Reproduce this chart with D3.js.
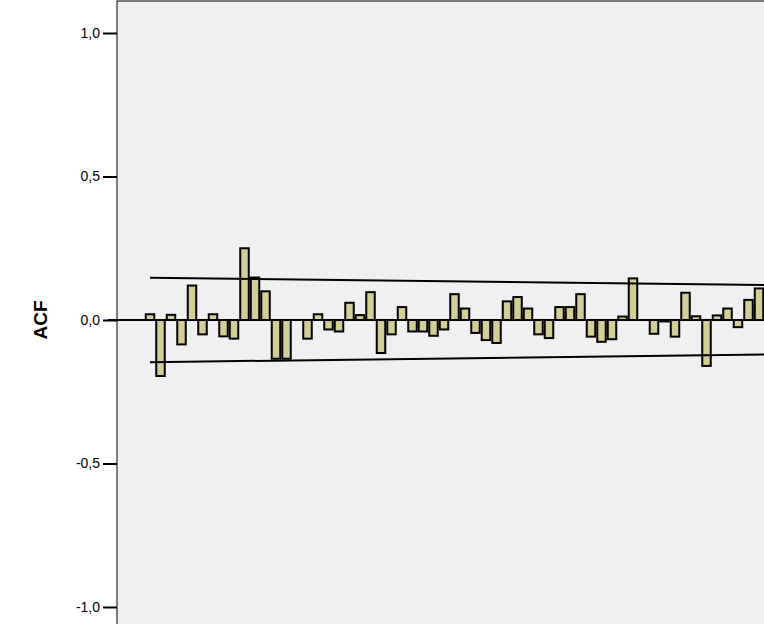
<!DOCTYPE html>
<html><head><meta charset="utf-8">
<script src="https://cdn.jsdelivr.net/npm/d3@7"></script>
<style>body{margin:0;background:#fff}</style>
</head><body>
<div id="chart"></div>
<script>
var acf = [0.02,-0.195,0.018,-0.085,0.12,-0.05,0.02,-0.057,-0.065,0.25,
  0.148,0.10,-0.135,-0.135,0,-0.065,0.02,-0.033,-0.04,0.06,
  0.017,0.097,-0.115,-0.05,0.045,-0.04,-0.04,-0.055,-0.033,0.09,
  0.04,-0.045,-0.07,-0.08,0.065,0.08,0.04,-0.05,-0.063,0.045,
  0.045,0.09,-0.058,-0.076,-0.067,0.012,0.145,0,-0.048,-0.005,
  -0.058,0.095,0.013,-0.16,0.016,0.04,-0.025,0.07,0.11];
var lags = acf.map(function(d, i) { return i + 1; });
var confLags = [1, 59.5];
var confUpper = [0.147, 0.122];
var confLower = [-0.147, -0.12];
var yTicks = [1.0, 0.5, 0, -0.5, -1.0];

var width = 764, height = 624;
var svg = d3.select("#chart").append("svg")
    .attr("width", width).attr("height", height);

var x = d3.scaleLinear().domain([1, 59]).range([150, 759]);
var y = d3.scaleLinear().domain([-1, 1]).range([607, 33]);
var bw = 8.5;

svg.append("rect").attr("x", 117).attr("y", 1).attr("width", 660).attr("height", 640)
    .attr("fill", "#f0f0f0").attr("stroke", "#000").attr("stroke-width", 1);

var fmt = function(d) { return d3.format(".1f")(d).replace(".", ",").replace("\u2212", "-"); };
var axis = svg.append("g").attr("transform", "translate(117,0)")
    .call(d3.axisLeft(y).tickValues(yTicks).tickSize(14).tickFormat(fmt).tickPadding(3));
axis.select(".domain").remove();
axis.selectAll("line").attr("stroke", "#000").attr("stroke-width", 2);
axis.selectAll("text").attr("font-family", "Arial, Liberation Sans, sans-serif")
    .attr("font-size", 14).attr("fill", "#000");

svg.append("text").attr("transform", "translate(47," + y(0) + ") rotate(-90)")
    .attr("text-anchor", "middle").attr("font-family", "Arial, Liberation Sans, sans-serif")
    .attr("font-weight", "bold").attr("font-size", 19).text("ACF");

svg.append("g").selectAll("rect").data(acf).enter().append("rect")
    .attr("x", function(d, i) { return x(lags[i]) - bw / 2; })
    .attr("y", function(d) { return y(Math.max(0, d)); })
    .attr("width", bw)
    .attr("height", function(d) { return Math.abs(y(d) - y(0)); })
    .attr("fill", "#d3cd96").attr("stroke", "#000").attr("stroke-width", 2);

svg.append("line").attr("x1", 108).attr("x2", width).attr("y1", y(0)).attr("y2", y(0))
    .attr("stroke", "#000").attr("stroke-width", 2);

var line = d3.line().x(function(d) { return x(d[0]); }).y(function(d) { return y(d[1]); });
[confUpper, confLower].forEach(function(c) {
  svg.append("path").datum(confLags.map(function(l, i) { return [l, c[i]]; }))
      .attr("d", line).attr("fill", "none").attr("stroke", "#000").attr("stroke-width", 2);
});
</script>
</body></html>
